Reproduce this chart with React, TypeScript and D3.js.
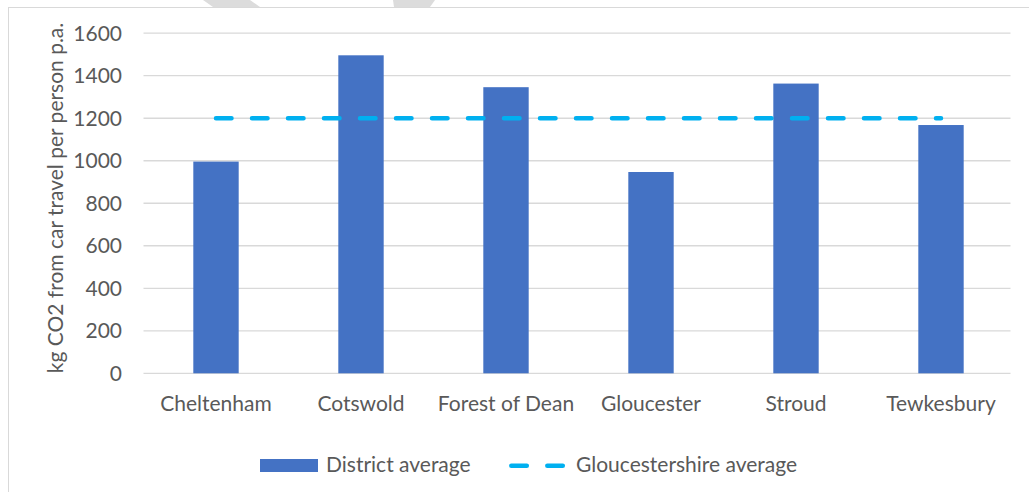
import React from 'react';
import * as d3 from 'd3';

// District-level emissions from car travel, with the county-wide figure as a reference line
const districts = ['Cheltenham', 'Cotswold', 'Forest of Dean', 'Gloucester', 'Stroud', 'Tewkesbury'];
const districtAverage = [996, 1496, 1346, 947, 1363, 1168];
const countyAverage = 1200;
const yTicks = [0, 200, 400, 600, 800, 1000, 1200, 1400, 1600];
const seriesNames = ['District average', 'Gloucestershire average'];
const yAxisTitle = 'kg CO2 from car travel per person p.a.';

const W = 1029;
const H = 492;
const FONT = 'Lato, "Open Sans", sans-serif';
const FS = 21;
const TEXT = '#595959';
const GRID = '#d9d9d9';
const BAR = '#4472C4';
const LINE = '#00B0F0';

const plot = { left: 143.5, right: 1013.5, top: 33.2, bottom: 373.3 };

export default function App() {
  const x = d3
    .scaleBand<string>()
    .domain(districts)
    .range([plot.left, plot.right])
    .paddingInner(0.687)
    .paddingOuter(0.3435);
  const y = d3.scaleLinear().domain([0, 1600]).range([plot.bottom, plot.top]);
  const cx = (d: string) => (x(d) as number) + x.bandwidth() / 2;

  const avgLine = d3.line<string>()
    .x((d) => cx(d))
    .y(() => y(countyAverage));

  const dash = '15.5 20.5';

  return (
    <svg
      width={W}
      height={H}
      viewBox={`0 0 ${W} ${H}`}
      style={{ position: 'absolute', left: 0, top: 0, background: '#fff' }}
      fontFamily={FONT}
    >
      {/* faint page marks above the chart frame */}
      <polygon points="203,0 250,0 260,7 213,7" fill="#dcdcdc" />
      <polygon points="393,0 435,0 430,7 394,7" fill="#dcdcdc" />

      {/* chart frame */}
      <rect x={8.5} y={7.5} width={W + 20} height={H + 20} fill="#fff" stroke={GRID} strokeWidth={1} />

      {/* gridlines and tick labels */}
      {yTicks.map((t) => (
        <g key={t}>
          <line x1={plot.left} x2={plot.right - 3} y1={y(t)} y2={y(t)} stroke={GRID} strokeWidth={1.3} />
          <text x={122} y={y(t)} dy="0.35em" textAnchor="end" fontSize={FS} fill={TEXT}>
            {t}
          </text>
        </g>
      ))}

      {/* bars */}
      {districts.map((d, i) => (
        <rect
          key={d}
          x={x(d)}
          y={y(districtAverage[i])}
          width={x.bandwidth()}
          height={y(0) - y(districtAverage[i])}
          fill={BAR}
        />
      ))}

      {/* county average */}
      <path
        d={avgLine(districts) as string}
        fill="none"
        stroke={LINE}
        strokeWidth={4.5}
        strokeDasharray={dash}
        strokeLinecap="round"
      />

      {/* category labels */}
      {districts.map((d) => (
        <text key={d} x={cx(d)} y={410.5} textAnchor="middle" fontSize={FS} fill={TEXT}>
          {d}
        </text>
      ))}

      {/* y axis title */}
      <text
        transform={`translate(63,198) rotate(-90)`}
        textAnchor="middle"
        fontSize={FS}
        fill={TEXT}
      >
        {yAxisTitle}
      </text>

      {/* legend */}
      <rect x={260} y={459} width={58} height={13} fill={BAR} />
      <text x={326} y={471.7} fontSize={FS} fill={TEXT}>
        {seriesNames[0]}
      </text>
      <line
        x1={511.3}
        x2={563}
        y1={465.7}
        y2={465.7}
        stroke={LINE}
        strokeWidth={4.5}
        strokeDasharray={dash}
        strokeLinecap="round"
      />
      <text x={576} y={471.7} fontSize={FS} fill={TEXT}>
        {seriesNames[1]}
      </text>
    </svg>
  );
}
